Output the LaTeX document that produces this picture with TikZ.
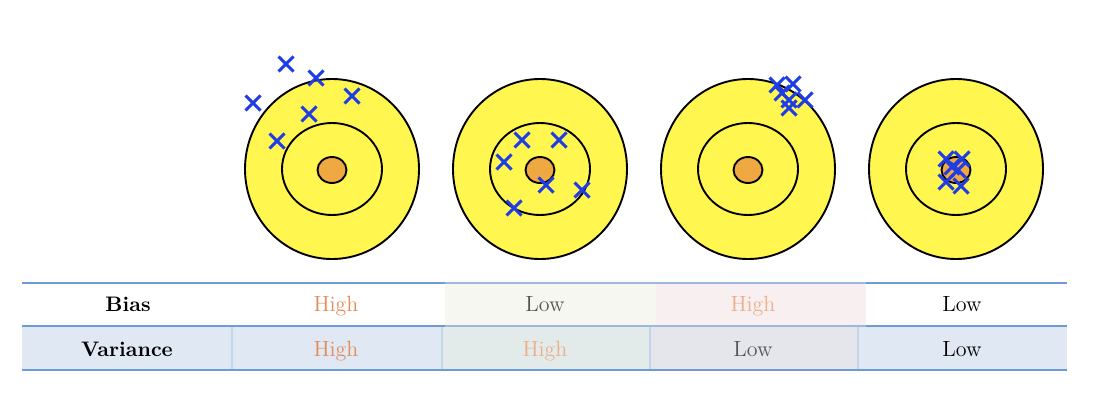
\documentclass[tikz,border=0pt]{standalone}
\usepackage{tikz}
\usetikzlibrary{
	positioning,
	shapes.misc
}
\definecolor{ringyellow}{HTML}{FFF650}
\definecolor{bullorange}{HTML}{F0A843}
\definecolor{shotblue}{HTML}{1F3DE4}
\definecolor{rulemain}{HTML}{6E9BD5}
\definecolor{rulelight}{HTML}{9CB8DD}
\definecolor{rowblue}{HTML}{DFE8F3}
\definecolor{cellgreen}{HTML}{F6F7F1}
\definecolor{cellgreendark}{HTML}{E2EAEA}
\definecolor{cellpink}{HTML}{F8F0F0}
\definecolor{cellgrey}{HTML}{E5E5EC}
\definecolor{sepblue}{HTML}{C6D6EA}
\definecolor{highcol}{HTML}{E38C5A}
\definecolor{highpale}{HTML}{EDAE8A}
\definecolor{lowcol}{HTML}{555555}

\tikzset{
	ring/.style={draw=black,line width=0.95pt,fill=ringyellow},
	bull/.style={draw=black,line width=0.95pt,fill=bullorange},
	shot/.style={cross out,draw=shotblue,line width=1.5pt,minimum size=6pt,inner sep=0pt},
	cell/.style={anchor=base,font=\fontsize{11}{13}\selectfont},
	head/.style={cell,font=\fontsize{10.5}{12}\selectfont\bfseries}
}

\begin{document}
\begin{tikzpicture}[x=0.5pt,y=-0.5pt]
	\useasboundingbox (0,0) rectangle (1098,396);

	% targets
	\foreach \n/\cx in {1/332,2/540,3/748,4/956}{
		\coordinate (t\n) at (\cx,169);
		\draw[ring] (t\n) ellipse[x radius=43.5pt,y radius=45pt];
		\draw[ring] (t\n) ellipse[x radius=25pt,y radius=23pt];
		\draw[bull] ([yshift=-0.5pt]t\n) ellipse[x radius=7.25pt,y radius=6.5pt];
	}

	% shots
	\foreach \p [count=\i] in {(286,64),(316,78),(253,103),(352,96),(309,114),(277,141)}
		\node[shot] (hitA\i) at \p {};
	\foreach \p [count=\i] in {(522,140),(559,140),(504,162),(546,185),(582,190),(514,208)}
		\node[shot] (hitB\i) at \p {};
	\foreach \p [count=\i] in {(777,85),(793,84),(782,93),(805,100),(789,100),(789,108)}
		\node[shot] (hitC\i) at \p {};
	\foreach \p [count=\i] in {(946,159),(962,159),(952,167),(958,170),(946,182),(961,186)}
		\node[shot] (hitD\i) at \p {};

	% table cells
	\fill[rowblue]       (22,326)  rectangle (1067,370);
	\fill[cellgreen]     (445,283) rectangle (656,326);
	\fill[cellpink]      (656,283) rectangle (866,326);
	\fill[cellgreendark] (443,326) rectangle (650,370);
	\fill[cellgrey]      (650,326) rectangle (858,370);
	\foreach \sx in {232,442,650,858}
		\draw[sepblue,line width=0.6pt] (\sx,327) -- (\sx,369);

	% rules
	\foreach \ry in {283,326,370}
		\draw[rulemain,line width=1.2pt] (22,\ry) -- (1067,\ry);
	\draw[rulelight,line width=1.2pt] (445,283) -- (866,283);
	\draw[rulelight,line width=1.2pt] (445,326) -- (866,326);

	\path
		node[head] (bias)     at (128,311) {Bias}
		node[head] (variance) at (127,356) {Variance}

		node[cell,text=highcol]  (b1) at (336,311) {High}
		node[cell,text=lowcol]   (b2) at (545,311) {Low}
		node[cell,text=highpale] (b3) at (753,311) {High}
		node[cell,text=black]    (b4) at (962,311) {Low}

		node[cell,text=highcol]  (v1) at (336,356) {High}
		node[cell,text=highpale] (v2) at (545,356) {High}
		node[cell,text=lowcol]   (v3) at (753,356) {Low}
		node[cell,text=black]    (v4) at (962,356) {Low}
	;
\end{tikzpicture}
\end{document}
